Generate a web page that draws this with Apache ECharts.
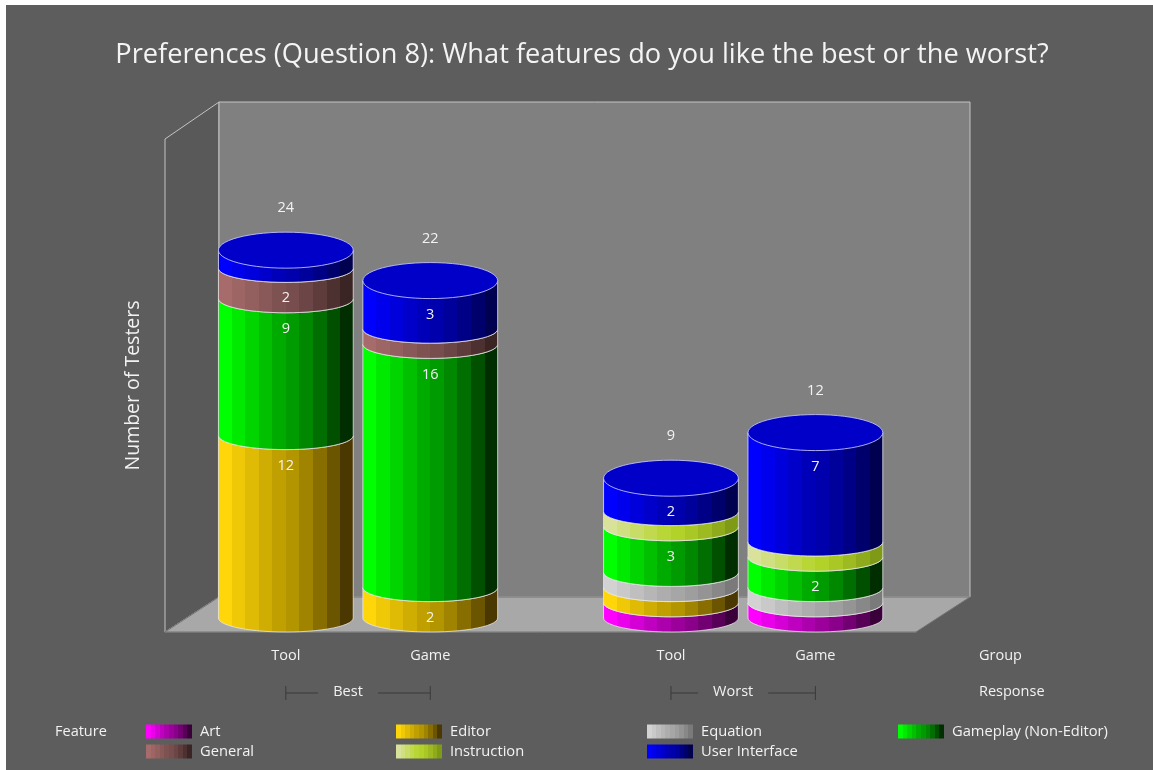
<!DOCTYPE html>
<html>
<head>
<meta charset="utf-8">
<style>
  html, body { margin: 0; padding: 0; background: #fff; }
  #main { width: 1153px; height: 770px; }
</style>
<script src="https://cdn.jsdelivr.net/npm/echarts@6/dist/echarts.min.js"></script>
</head>
<body>
<div id="main"></div>
<script>
// data, stacked bottom to top in this order
const features = ['Art', 'Editor', 'Equation', 'Gameplay (Non-Editor)', 'General', 'Instruction', 'User Interface'];
const groups = ['Tool', 'Game', 'Tool', 'Game'];
const responses = ['Best', 'Worst'];
const art = [0, 0, 1, 1];
const editor = [12, 2, 1, 0];
const equation = [0, 0, 1, 1];
const gameplay = [9, 16, 3, 2];
const general = [2, 1, 0, 0];
const instruction = [0, 0, 1, 1];
const userInterface = [1, 3, 2, 7];
const totals = [24, 22, 9, 12];
const featureValues = [art, editor, equation, gameplay, general, instruction, userInterface];

// left, middle, right shade of each cylinder
const shades = [
  ['#ff00ff', '#a000a0', '#3a003a'],
  ['#ffd60a', '#b89900', '#4a3800'],
  ['#d2d2d2', '#a8a8a8', '#7a7a7a'],
  ['#00ff00', '#00a000', '#002e00'],
  ['#a86b6b', '#7a4f4f', '#3a2424'],
  ['#d8e29a', '#b4d42a', '#7f9a14'],
  ['#0000ff', '#0000b0', '#000050'],
];

const FONT = '"Open Sans", sans-serif';
const TEXT = '#f2f2f2';
const BANDS = 10;
const BAR_SPAN = 2.8; // in x axis units
const RING_RY = 14;
const CAP_RY = 18;
const CAP_LIFT = 3;
const DEPTH_X = 54;
const DEPTH_Y = 35;
const DEPTH_TOP = 37;

// slot on the x axis: bars 3 apart, 2 extra between Best and Worst
const slotOf = i => i * 3 + (i >= 2 ? 2 : 0);

const hex = c => [1, 3, 5].map(k => parseInt(c.slice(k, k + 2), 16));
function mix(a, b, t) {
  const ca = hex(a);
  const cb = hex(b);
  return 'rgb(' + ca.map((v, k) => Math.round(v + (cb[k] - v) * t)).join(',') + ')';
}
function bandGradient(s) {
  const stops = [];
  for (let i = 0; i < BANDS; i++) {
    const t = i / (BANDS - 1);
    const color = t < 0.5 ? mix(s[0], s[1], t * 2) : mix(s[1], s[2], Math.pow((t - 0.5) * 2, 1.4));
    stops.push({ offset: i / BANDS, color }, { offset: (i + 1) / BANDS, color });
  }
  return new echarts.graphic.LinearGradient(0, 0, 1, 0, stops);
}

function arc(cx, cy, rx, ry, reverse, upper) {
  const pts = [];
  for (let i = 0; i <= 28; i++) {
    const a = Math.PI * (i / 28);
    const sign = upper ? -1 : 1;
    pts.push([cx - rx * Math.cos(a), cy + sign * ry * Math.sin(a)]);
  }
  return reverse ? pts.reverse() : pts;
}

function renderWalls(params) {
  const r = params.coordSys;
  const x0 = r.x, x1 = r.x + r.width, y0 = r.y, y1 = r.y + r.height;
  const line = { stroke: '#c4c4c4', lineWidth: 1 };
  return {
    type: 'group',
    children: [
      { type: 'polygon', shape: { points: [[x0, y0], [x0 + DEPTH_X, y0 - DEPTH_TOP], [x0 + DEPTH_X, y1 - DEPTH_Y], [x0, y1]] },
        style: { fill: '#595959', ...line } },
      { type: 'rect', shape: { x: x0 + DEPTH_X, y: y0 - DEPTH_TOP, width: r.width, height: r.height + DEPTH_TOP - DEPTH_Y },
        style: { fill: '#808080', ...line } },
      { type: 'polygon', shape: { points: [[x0, y1], [x0 + DEPTH_X, y1 - DEPTH_Y], [x1 + DEPTH_X, y1 - DEPTH_Y], [x1, y1]] },
        style: { fill: '#a8a8a8', stroke: '#747474', lineWidth: 1 } },
    ],
  };
}

function renderSegment(featureIndex, params, api) {
  const cx = api.coord([api.value(0), 0])[0];
  const yBase = api.coord([0, api.value(1)])[1];
  const isTop = featureIndex === features.length - 1;
  const yTop = api.coord([0, api.value(2)])[1] - (isTop ? CAP_LIFT : 0);
  const value = api.value(3);
  const rx = api.size([BAR_SPAN, 0])[0] / 2;
  const edge = 'rgba(235,235,235,0.75)';
  const children = [{
    type: 'polygon',
    shape: { points: arc(cx, yTop, rx, RING_RY, false).concat(arc(cx, yBase, rx, RING_RY, true)) },
    style: { fill: bandGradient(shades[featureIndex]), stroke: edge, lineWidth: 1 },
  }];
  if (isTop) {
    children.push({
      type: 'polygon',
      shape: { points: arc(cx, yTop, rx, CAP_RY, false, true).concat(arc(cx, yTop, rx, CAP_RY, true)) },
      style: { fill: '#0000c8', stroke: 'rgba(200,200,255,0.85)', lineWidth: 1 },
    });
  }
  // single testers are not labelled on the cylinders
  if (value >= 2) {
    children.push({
      type: 'text',
      style: {
        text: String(value),
        x: cx,
        y: yTop + (isTop ? CAP_RY : RING_RY) + 16,
        fill: TEXT,
        font: '14.5px ' + FONT,
        align: 'center',
        verticalAlign: 'middle',
      },
    });
  }
  return { type: 'group', children };
}

function renderTotal(params, api) {
  const p = api.coord([api.value(0), api.value(1)]);
  return {
    type: 'text',
    style: {
      text: String(api.value(1)),
      x: p[0],
      y: p[1] - CAP_LIFT - CAP_RY - 24,
      fill: TEXT,
      font: '14.5px ' + FONT,
      align: 'center',
      verticalAlign: 'middle',
    },
  };
}

function renderResponse(params, api) {
  const a = api.coord([api.value(0), 0])[0];
  const b = api.coord([api.value(1), 0])[0];
  const name = responses[params.dataIndex];
  const mid = (a + b) / 2 - 10;
  const gap = 10 + name.length * 5;
  const y = 693;
  const stroke = { stroke: '#3a3a3a', lineWidth: 1 };
  const seg = (x1, y1, x2, y2) => ({ type: 'line', shape: { x1, y1, x2, y2 }, style: stroke });
  return {
    type: 'group',
    children: [
      seg(a, y - 7, a, y + 7),
      seg(b, y - 7, b, y + 7),
      seg(a, y, mid - gap, y),
      seg(mid + gap, y, b, y),
      { type: 'text', style: { text: name, x: mid, y: y - 1, fill: TEXT, font: '14.5px ' + FONT, align: 'center', verticalAlign: 'middle' } },
    ],
  };
}

const segmentSeries = features.map((name, f) => {
  const rows = [];
  groups.forEach((g, i) => {
    let base = 0;
    for (let k = 0; k < f; k++) base += featureValues[k][i];
    if (featureValues[f][i] > 0) rows.push([slotOf(i), base, base + featureValues[f][i], featureValues[f][i]]);
  });
  return {
    name,
    type: 'custom',
    z: 3,
    silent: true,
    renderItem: (params, api) => renderSegment(f, params, api),
    itemStyle: { color: bandGradient(shades[f]) },
    encode: { x: 0, y: 2 },
    data: rows,
  };
});

function legendColumn(left, names) {
  return {
    left,
    top: 724,
    orient: 'vertical',
    selectedMode: false,
    icon: 'rect',
    itemWidth: 46,
    itemHeight: 14,
    itemGap: 5,
    padding: 0,
    textStyle: { color: TEXT, fontFamily: FONT, fontSize: 14.7, padding: [0, 0, 0, 3] },
    data: names,
  };
}

const sideLabel = (text, x, y) => ({
  type: 'text',
  x,
  y,
  style: { text, fill: TEXT, font: '14.5px ' + FONT, textVerticalAlign: 'middle' },
});

const option = {
  animation: false,
  backgroundColor: '#5d5d5d',
  title: {
    text: 'Preferences (Question 8): What features do you like the best or the worst?',
    left: 577,
    top: 37,
    textAlign: 'center',
    textStyle: { color: '#f4f4f4', fontFamily: FONT, fontWeight: 'normal', fontSize: 27.2 },
  },
  legend: [
    legendColumn(146, [features[0], features[4]]),
    legendColumn(396, [features[1], features[5]]),
    legendColumn(647, [features[2], features[6]]),
    legendColumn(898, [features[3]]),
  ],
  grid: { left: 165, right: 237, top: 139, bottom: 138 },
  xAxis: {
    type: 'value',
    min: -2.51,
    max: 13.09,
    splitLine: { show: false },
    axisTick: { show: false },
    axisLine: { onZero: false, lineStyle: { color: '#747474' } },
    axisLabel: {
      customValues: groups.map((g, i) => slotOf(i)),
      formatter: v => groups[groups.findIndex((g, i) => slotOf(i) === v)],
      color: TEXT,
      fontFamily: FONT,
      fontSize: 14.5,
      margin: 16,
    },
  },
  yAxis: {
    type: 'value',
    min: -0.92,
    max: 31.51,
    name: 'Number of Testers',
    nameLocation: 'middle',
    nameGap: 22,
    nameTextStyle: { color: TEXT, fontFamily: FONT, fontSize: 19.5 },
    axisLine: { show: false },
    axisTick: { show: false },
    axisLabel: { show: false },
    splitLine: { show: false },
  },
  graphic: [
    { type: 'rect', z: 100, shape: { x: 0, y: 0, width: 6, height: 770 }, style: { fill: '#fff' } },
    { type: 'rect', z: 100, shape: { x: 0, y: 0, width: 1153, height: 5 }, style: { fill: '#fff' } },
    sideLabel('Group', 979, 656),
    sideLabel('Response', 979, 692),
    sideLabel('Feature', 55, 732),
  ],
  series: [
    { type: 'custom', z: 1, silent: true, renderItem: renderWalls, data: [[0, 0]] },
    ...segmentSeries,
    {
      type: 'custom',
      z: 4,
      silent: true,
      renderItem: renderTotal,
      encode: { x: 0, y: 1 },
      data: totals.map((t, i) => [slotOf(i), t]),
    },
    {
      type: 'custom',
      z: 4,
      silent: true,
      renderItem: renderResponse,
      data: responses.map((r, i) => [slotOf(i * 2), slotOf(i * 2 + 1)]),
    },
  ],
};

echarts.init(document.getElementById('main'), null, { renderer: 'canvas' }).setOption(option);
</script>
</body>
</html>
